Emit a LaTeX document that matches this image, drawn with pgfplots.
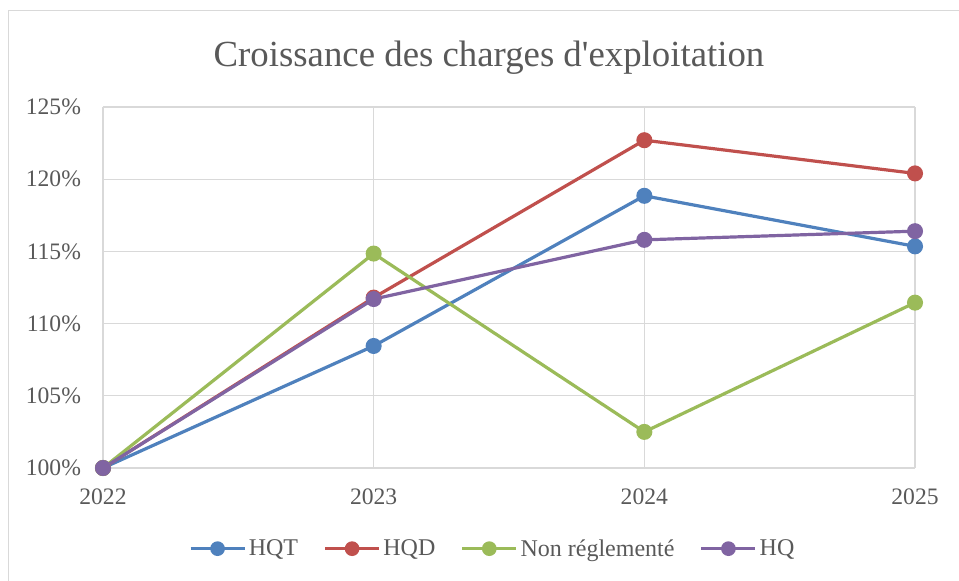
\documentclass[border=0pt]{standalone}
\usepackage{pgfplots}
\pgfplotsset{compat=1.18}
\usepackage{fontspec}
\setmainfont{Liberation Serif}[Ligatures=TeXOff]
\definecolor{txt}{HTML}{595959}
\definecolor{grd}{HTML}{D9D9D9}
\definecolor{cB}{HTML}{4F81BD}
\definecolor{cR}{HTML}{C0504D}
\definecolor{cG}{HTML}{9BBB59}
\definecolor{cP}{HTML}{8064A2}
\begin{document}
\begin{tikzpicture}[x=0.75pt,y=0.75pt]
\useasboundingbox (-103,-113) rectangle (856,468);
\draw[grd, line width=1pt] (-94.5,-113) -- (-94.5,457.5) -- (856,457.5);
\node[txt, font=\fontsize{27.6}{32}\selectfont] at (386,410) {Croissance des charges d'exploitation};
\begin{axis}[
  at={(0,0)}, anchor=south west,
  width=609pt, height=270.75pt, scale only axis,
  xmin=2022, xmax=2025, ymin=100, ymax=125,
  xtick={2022,2023,2024,2025},
  ytick={100,105,110,115,120,125},
  xticklabels={2022,2023,2024,2025},
  yticklabels={100\%,105\%,110\%,115\%,120\%,125\%},
  grid=major,
  major grid style={grd, line width=1pt},
  axis line style={grd, line width=1pt},
  axis x line*=bottom, axis y line*=left,
  x axis line style={-}, y axis line style={-},
  tick style={draw=none},
  tick label style={txt, font=\fontsize{17.7}{21}\selectfont},
  yticklabel style={xshift=-13pt},
  xticklabel style={yshift=-12pt},
  clip=false,
  every axis plot/.append style={line width=2.4pt, mark=*, mark size=4.8pt},
  legend columns=4,
  legend style={at={(292.5pt,-60.5pt)}, anchor=center, draw=none, fill=none,
    font=\fontsize{18}{21}\selectfont, text=txt,
    /tikz/every odd column/.append style={column sep=0pt},
    /tikz/every even column/.append style={column sep=17pt}},
  legend image code/.code={
    \draw[#1, mark=none] (0pt,0pt) -- (40.5pt,0pt);
    \draw[#1, only marks, mark size=4.3pt] plot coordinates {(20.25pt,0pt)};
  },
]
\addplot[cB, mark options={fill=cB, draw=cB}] coordinates {(2022,100) (2023,108.45) (2024,118.85) (2025,115.35)};
\addlegendentry{HQT}
\addplot[cR, mark options={fill=cR, draw=cR}] coordinates {(2022,100) (2023,111.8) (2024,122.7) (2025,120.4)};
\addlegendentry{HQD}
\addplot[cG, mark options={fill=cG, draw=cG}] coordinates {(2022,100) (2023,114.85) (2024,102.5) (2025,111.45)};
\addlegendentry{Non réglementé}
\addplot[cP, mark options={fill=cP, draw=cP}] coordinates {(2022,100) (2023,111.7) (2024,115.8) (2025,116.4)};
\addlegendentry{HQ}
\end{axis}
\end{tikzpicture}
\end{document}
